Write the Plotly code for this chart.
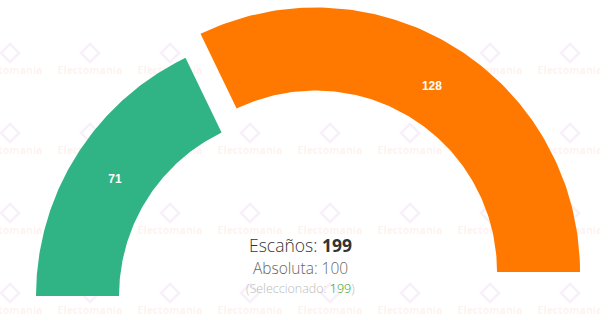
import math
import plotly.graph_objects as go

# ---- data ----
parties = ["A", "B"]
seats = [71, 128]
colors = ["#31b485", "#ff7900"]
pulled = [0.0, 28.3]  # explode offset of each slice (px)
total_label = "Escaños: "
majority = 100

R_OUT = 264.5
R_IN = 181.5

total = sum(seats)
fig = go.Figure()

# faint watermark grid (decoration)
wm_x, wm_y, lg_x, lg_y = [], [], [], []
for col in range(8):
    for row in range(4):
        px = 10 + 80 * col
        py = 71 + 80 * row
        wm_x.append(px - 300.5)
        wm_y.append(296 - py)
        lg_x.append(px - 300.5)
        lg_y.append(296 - py + 18)
fig.add_trace(go.Scatter(x=lg_x, y=lg_y, mode="markers",
                         marker=dict(symbol="diamond-open", size=14,
                                     color="rgba(190,130,210,0.12)",
                                     line=dict(width=2.5, color="rgba(190,130,210,0.12)")),
                         hoverinfo="skip", showlegend=False))
fig.add_trace(go.Scatter(x=wm_x, y=wm_y, mode="text", text=["Electomania"] * len(wm_x),
                         textfont=dict(family="Open Sans", size=10.5, color="rgba(240,120,100,0.11)",
                                       weight="bold"),
                         hoverinfo="skip", showlegend=False))

start = 180.0
lab_x, lab_y, lab_t = [], [], []
for name, v, c, pull in zip(parties, seats, colors, pulled):
    span = 180.0 * v / total
    a0, a1 = start, start - span
    mid = math.radians((a0 + a1) / 2)
    ox, oy = pull * math.cos(mid), pull * math.sin(mid)
    n = 120
    xs, ys = [], []
    for i in range(n + 1):
        a = math.radians(a0 + (a1 - a0) * i / n)
        xs.append(ox + R_OUT * math.cos(a)); ys.append(oy + R_OUT * math.sin(a))
    for i in range(n + 1):
        a = math.radians(a1 + (a0 - a1) * i / n)
        xs.append(ox + R_IN * math.cos(a)); ys.append(oy + R_IN * math.sin(a))
    xs.append(xs[0]); ys.append(ys[0])
    fig.add_trace(go.Scatter(x=xs, y=ys, mode="lines", fill="toself", fillcolor=c,
                             line=dict(width=0, color=c), hoverinfo="skip", showlegend=False))
    rm = (R_OUT + R_IN) / 2 - 4
    lab_x.append(ox + rm * math.cos(mid)); lab_y.append(oy + rm * math.sin(mid))
    lab_t.append(str(v))
    start = a1

fig.add_trace(go.Scatter(x=lab_x, y=lab_y, mode="text", text=lab_t,
                         textfont=dict(family="Liberation Sans", size=12, color="white", weight="bold"),
                         hoverinfo="skip", showlegend=False))

fig.add_annotation(x=0, y=51, xref="x", yref="y", showarrow=False,
                   text=f"{total_label}<b>{total}</b>",
                   font=dict(family="Open Sans", size=17.5, color="#333", weight=300))
fig.add_annotation(x=0, y=28, xref="x", yref="y", showarrow=False,
                   text=f"Absoluta: {majority}",
                   font=dict(family="Open Sans", size=15.5, color="#666", weight=300))
fig.add_annotation(x=0, y=8, xref="x", yref="y", showarrow=False,
                   text=f"(Seleccionado: <span style='color:#229922'>{total}</span>)",
                   font=dict(family="Open Sans", size=12.5, color="#bbb", weight=300))

fig.update_layout(width=600, height=323, margin=dict(l=0, r=0, t=0, b=0),
                  paper_bgcolor="white", plot_bgcolor="white",
                  xaxis=dict(range=[-300.5, 299.5], visible=False, fixedrange=True),
                  yaxis=dict(range=[-27, 296], visible=False, fixedrange=True))
fig.write_html("out.html")
